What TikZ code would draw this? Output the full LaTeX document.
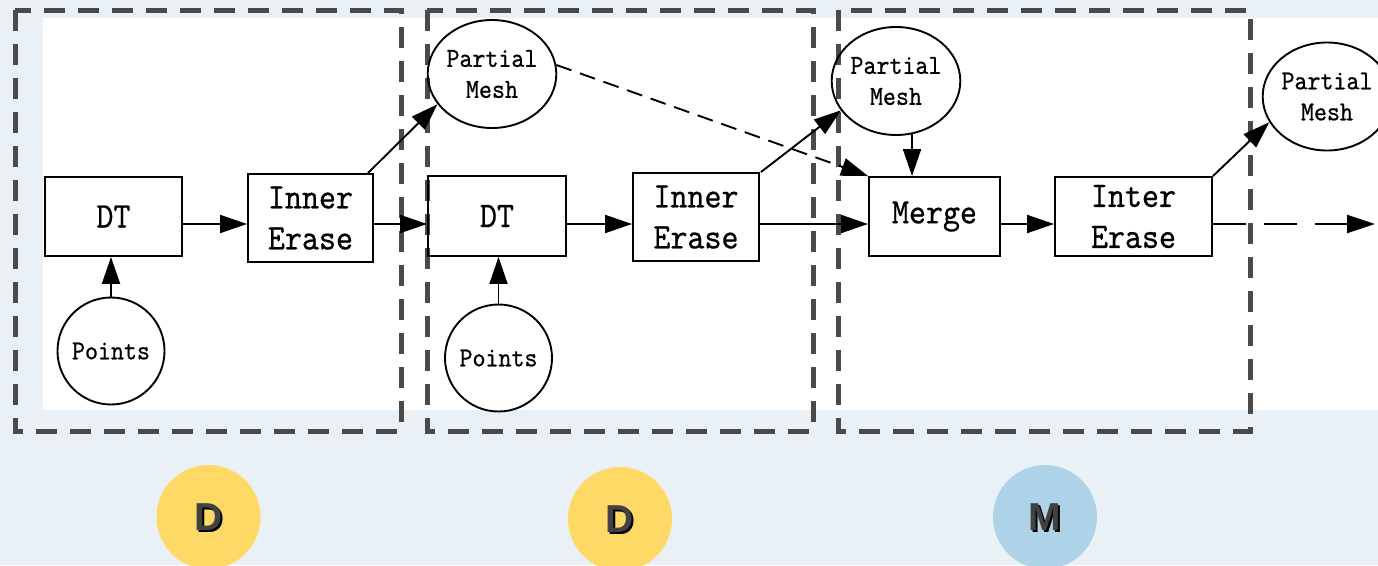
\documentclass[tikz,border=0pt]{standalone}
\usepackage{fontspec}
\newfontfamily\badgefont{Liberation Sans}
\newfontfamily\diagfont{lmmono10-regular}[Extension=.otf,FakeStretch=0.9,FakeBold=0.6]
\usetikzlibrary{shapes.geometric,arrows.meta}
\definecolor{bgdots}{RGB}{233,241,247}
\definecolor{framegray}{RGB}{74,74,74}
\definecolor{dyellow}{RGB}{255,217,102}
\definecolor{mblue}{RGB}{174,210,232}
\definecolor{lettergray}{RGB}{66,66,66}
\begin{document}
\begin{tikzpicture}[x=1pt,y=-1pt,
  stagebox/.style={draw=framegray,line width=5pt,dash pattern=on 21pt off 13pt},
  proc/.style={draw,line width=1.9pt,rectangle,inner sep=0pt,
    font=\diagfont\fontsize{36}{41}\selectfont,align=center},
  src/.style={draw,line width=1.9pt,circle,minimum size=107pt,inner sep=0pt,
    font=\diagfont\fontsize{27.5}{31}\selectfont},
  mesh/.style={draw,line width=1.9pt,ellipse,minimum width=128pt,minimum height=108pt,
    inner sep=0pt,font=\diagfont\fontsize{27.5}{31}\selectfont,align=center},
  flow/.style={line width=1.9pt,-{Triangle[length=27pt,width=18pt]}},
  badge/.style={circle,minimum size=104pt,inner sep=0pt},
  badgeletter/.style={font=\badgefont\bfseries\fontsize{39}{39}\selectfont,inner sep=0pt}
]
\useasboundingbox (0,0) rectangle (1378,565);
\clip (0,0) rectangle (1378,565);

% background: tinted margin, white working area
\fill[bgdots] (0,0) rectangle (1378,565);
\fill[white] (43,18) rectangle (1378,410);

% stage frames
\draw[stagebox] (15,10) rectangle (401,431);
\draw[stagebox] (427,10) rectangle (813,431);
\draw[stagebox] (838,10) rectangle (1250,431);

% processing boxes
\node[proc,minimum width=137pt,minimum height=79pt] (dt1) at (113.5,216.5) {DT};
\node[proc,minimum width=125pt,minimum height=88pt] (ie1) at (310.5,218) {Inner\\Erase};
\node[proc,minimum width=138pt,minimum height=80pt] (dt2) at (497,216) {DT};
\node[proc,minimum width=126pt,minimum height=88pt] (ie2) at (696,217) {Inner\\Erase};
\node[proc,minimum width=131pt,minimum height=79pt] (merge) at (934.5,216.5) {Merge};
\node[proc,minimum width=157pt,minimum height=79pt] (ie3) at (1133.5,216.5) {Inter\\Erase};

% inputs
\node[src] (pts1) at (111,351) {Points};
\node[src] (pts2) at (498.5,358) {Points};

% partial meshes
\node[mesh] (pm1) at (492,74) {Partial\\Mesh};
\node[mesh] (pm2) at (896,81) {Partial\\Mesh};
\node[mesh] (pm3) at (1327,96.5) {Partial\\Mesh};

% helper coordinates
\coordinate (row) at (0,224);
\coordinate (mx) at (912,0);
\coordinate (outend) at (1375,224);

% connectors
\draw[flow] (pts1.north) -- (pts1.north |- dt1.south);
\draw[flow] (pts2.north) -- (pts2.north |- dt2.south);
\draw[flow] (dt1.east |- row) -- (ie1.west |- row);
\draw[flow] (ie1.east |- row) -- (dt2.west |- row);
\draw[flow] (dt2.east |- row) -- (ie2.west |- row);
\draw[flow] (ie2.east |- row) -- (merge.west |- row);
\draw[flow] (merge.east |- row) -- (ie3.west |- row);
\draw[flow] ([xshift=-6pt]ie1.north east) -- (pm1.209);
\draw[flow] ([xshift=1pt]ie2.north east) -- (pm2.208);
\draw[flow] (ie3.north east) -- (pm3.204);
\draw[flow,dash pattern=on 16pt off 9pt] (pm1.8) -- (merge.north west);
\draw[flow] ([yshift=2pt]pm2.south -| mx) -- (merge.north -| mx);
\draw[line width=1.9pt,dash pattern=on 33pt off 18pt,-{Triangle[length=28pt,width=18pt]}]
  (ie3.east |- row) -- (outend);

% stage badges
\node[badge,fill=dyellow] (b1) at (208.5,517) {};
\node[badge,fill=dyellow] (b2) at (620,519) {};
\node[badge,fill=mblue] (b3) at (1045,517) {};
\node[badgeletter,text=black] (s1) at ([shift={(2,2)}]b1.center) {D};
\node[badgeletter,text=lettergray] (l1) at (b1.center) {D};
\node[badgeletter,text=black] (s2) at ([shift={(2,2)}]b2.center) {D};
\node[badgeletter,text=lettergray] (l2) at (b2.center) {D};
\node[badgeletter,text=black] (s3) at ([shift={(2,2)}]b3.center) {M};
\node[badgeletter,text=lettergray] (l3) at (b3.center) {M};
\end{tikzpicture}
\end{document}
